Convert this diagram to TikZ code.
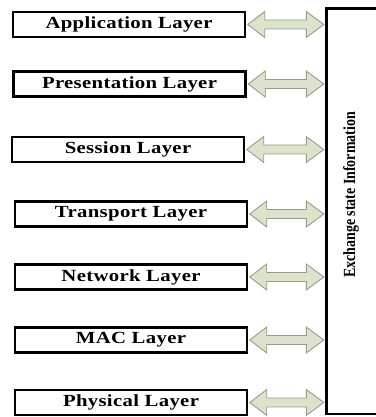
\documentclass[tikz,border=0pt]{standalone}
\usepackage{fontspec}
\usepackage[dvipsnames]{xcolor}
\usepackage{tikz}
\usetikzlibrary{calc}

\setmainfont{Liberation Serif}
\newfontfamily\layerfont{Liberation Serif}[FakeStretch=1.22,LetterSpace=2]
\newfontfamily\panelfont{Liberation Serif}[FakeStretch=0.82]

\definecolor{arrowfill}{HTML}{DDE2CD}
\definecolor{arrowline}{HTML}{989C8A}

\begin{document}
\begin{tikzpicture}[x=1pt, y=1pt,
        layer/.style={draw, line width=2.5pt, minimum width=232pt, minimum height=25pt, inner sep=0pt,
            font=\layerfont\bfseries\fontsize{17}{19}\selectfont},
        linkarrow/.style={draw=arrowline, fill=arrowfill, line width=0.9pt, line join=miter}]
        \useasboundingbox (0, 0) rectangle (375, 417);

        \node[layer] (app) at (129.0, 392.5) {Application Layer};
        \node[layer] (pres) at (129.5, 333.0) {Presentation Layer};
        \node[layer] (sess) at (128.0, 267.5) {Session Layer};
        \node[layer] (trans) at (131.0, 203.0) {Transport Layer};
        \node[layer] (net) at (131.0, 140.0) {Network Layer};
        \node[layer] (mac) at (131.0, 77.0) {MAC Layer};
        \node[layer] (phys) at (131.0, 14.5) {Physical Layer};

        \node[draw, line width=2.5pt, minimum width=90pt, minimum height=405.7pt, anchor=north west] (panel) at (325.3, 409.7) {};
        \node[rotate=90, anchor=base, font=\panelfont\bfseries\fontsize{17}{19}\selectfont] (info) at (355.0, 222.0) {Exchange state Information};

        \foreach \n in {app, pres, sess, trans, net, mac, phys}
            \draw[linkarrow] ($(\n.east)+(1.5, 0)$) -- ++(17, 13) -- ++(0, -8.5) -- ($(\n.east -| panel.west)+(-19, 4.5)$) -- ++(0, 8.5) -- ($(\n.east -| panel.west)+(-1.5, 0)$) -- ++(-17.5, -13) -- ++(0, 8.5) -- ($(\n.east)+(18.5, -4.5)$) -- ++(0, -8.5) -- cycle;
    \end{tikzpicture}
\end{document}
